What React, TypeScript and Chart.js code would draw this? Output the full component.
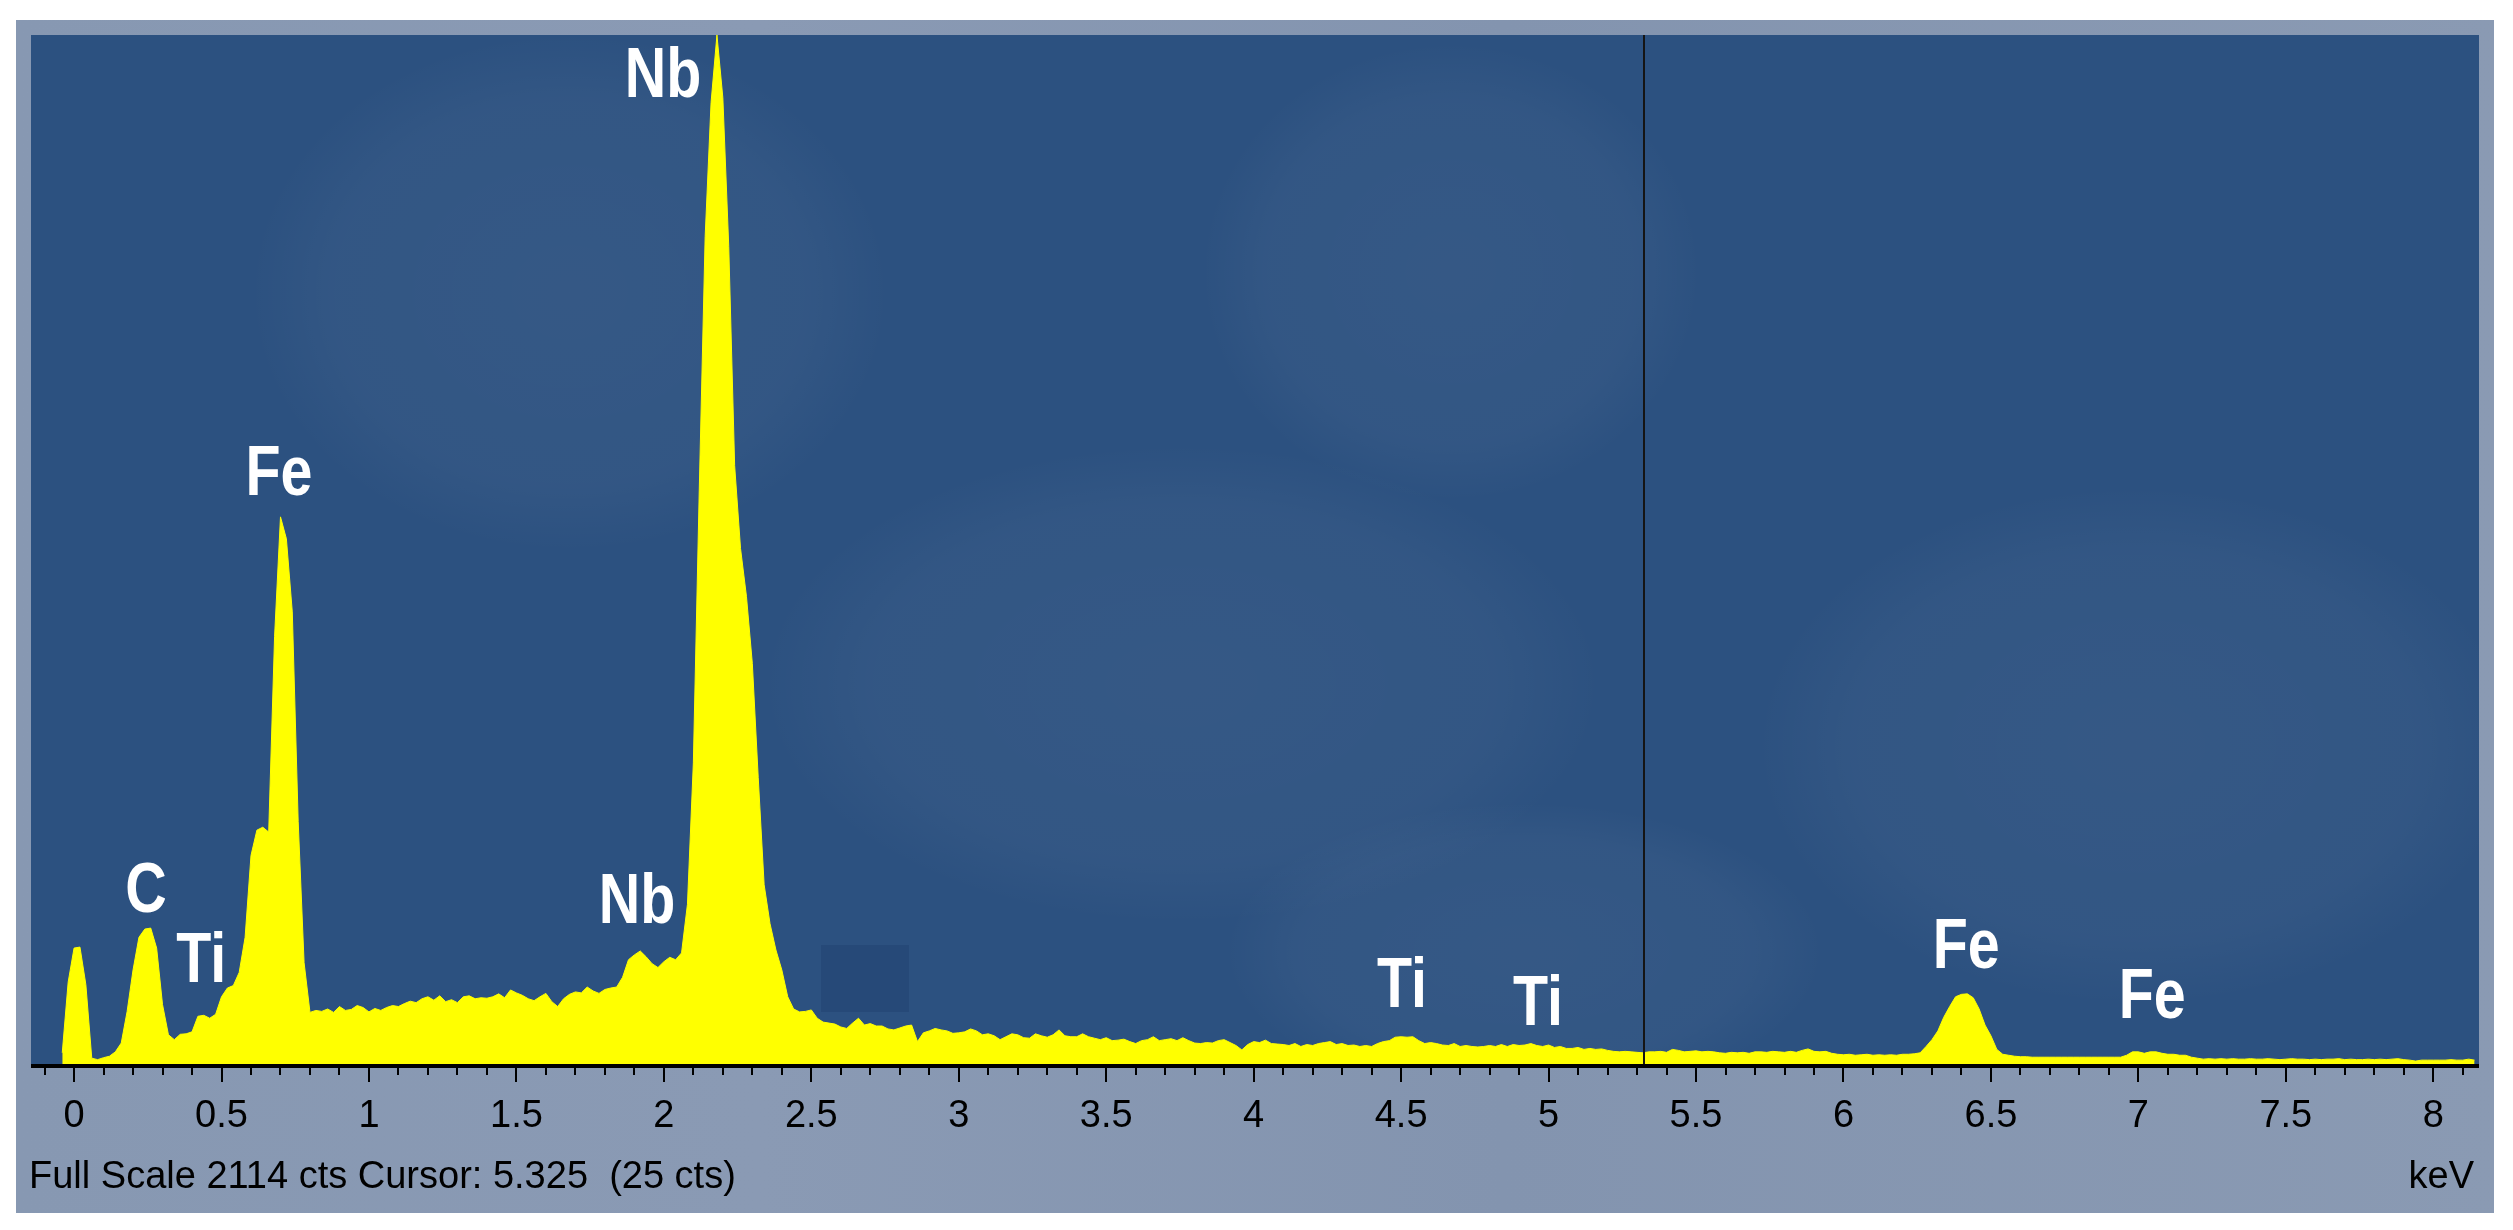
import React, { useEffect, useRef } from "react";
import { Chart, registerables } from "chart.js";

Chart.register(...registerables);

// ---- spectrum data (channel width 0.02 keV, first channel at -0.04 keV) ----
const ENERGY_START = -0.04;
const ENERGY_STEP = 0.02;

const counts: number[] = [
  // -0.04
  25, 170,
  // 0.00
  240, 242, 165, 14, 11, 15, 18, 27, 45, 110,
  // 0.20
  195, 262, 279, 281, 240, 124, 62, 52, 63, 64,
  // 0.40
  68, 100, 102, 96, 104, 140, 158, 163, 190, 262,
  // 0.60
  430, 482, 488, 478, 880, 1125, 1080, 930, 500, 210,
  // 0.80
  108, 112, 110, 115, 108, 120, 112, 114, 122, 118,
  // 1.00
  109, 116, 112, 118, 122, 120, 126, 131, 128, 136,
  // 1.20
  140, 133, 142, 130, 134, 128, 140, 142, 136, 138,
  // 1.40
  137, 140, 146, 138, 154, 148, 143, 136, 132, 140,
  // 1.60
  147, 130, 120, 136, 145, 150, 148, 160, 152, 147,
  // 1.80
  155, 158, 160, 180, 216, 226, 234, 222, 208, 200,
  // 2.00
  212, 221, 216, 230, 330, 620, 1180, 1700, 1975, 2114,
  // 2.20
  1985, 1680, 1230, 1060, 962, 824, 590, 370, 290, 236,
  // 2.40
  195, 140, 115, 109, 110, 113, 96, 88, 86, 84,
  // 2.60
  78, 75, 86, 96, 82, 85, 80, 80, 74, 72,
  // 2.80
  76, 80, 82, 48, 66, 70, 75, 72, 70, 65,
  // 3.00
  66, 68, 74, 70, 62, 64, 60, 52, 58, 64,
  // 3.20
  62, 56, 55, 64, 60, 57, 62, 72, 60, 58,
  // 3.40
  58, 64, 58, 55, 52, 56, 50, 51, 53, 48,
  // 3.60
  44, 50, 52, 58, 50, 52, 54, 50, 56, 50,
  // 3.80
  45, 44, 46, 45, 50, 52, 46, 40, 31, 42,
  // 4.00
  48, 46, 51, 44, 43, 42, 40, 44, 38, 42,
  // 4.20
  40, 44, 46, 48, 42, 44, 40, 41, 38, 40,
  // 4.40
  38, 44, 48, 50, 57, 58, 57, 58, 50, 44,
  // 4.60
  46, 44, 41, 40, 44, 38, 40, 38, 37, 38,
  // 4.80
  40, 38, 42, 38, 42, 40, 41, 44, 40, 38,
  // 5.00
  41, 36, 38, 34, 34, 36, 32, 34, 32, 33,
  // 5.20
  30, 28, 27, 28, 27, 26, 25, 27, 27, 28,
  // 5.40
  26, 32, 30, 27, 28, 29, 27, 28, 27, 25,
  // 5.60
  24, 26, 25, 26, 24, 27, 27, 26, 28, 27,
  // 5.80
  26, 28, 26, 30, 33, 28, 27, 28, 24, 22,
  // 6.00
  21, 22, 20, 21, 22, 20, 21, 20, 21, 20,
  // 6.20
  22, 22, 23, 25, 38, 52, 70, 98, 120, 140,
  // 6.40
  145, 146, 138, 115, 82, 60, 32, 22, 20, 18,
  // 6.60
  17, 17, 16, 16, 16, 16, 16, 16, 16, 16,
  // 6.80
  16, 16, 16, 16, 16, 16, 16, 16, 20, 27,
  // 7.00
  27, 24, 27, 27, 24, 22, 22, 20, 20, 16,
  // 7.20
  14, 12, 13, 12, 13, 12, 13, 12, 12, 13,
  // 7.40
  12, 12, 13, 12, 11, 12, 13, 12, 12, 11,
  // 7.60
  12, 11, 12, 12, 13, 11, 12, 11, 11, 12,
  // 7.80
  11, 12, 11, 12, 13, 11, 10, 8, 10, 10,
  // 8.00
  10, 10, 10, 11, 10, 10, 12, 10,
];

// ---- axis ----
const X_MIN = -0.146;
const X_MAX = 8.155;
const MINOR_STEP = 0.1;
const MAJOR_STEP = 0.5;
const FULL_SCALE = 2114;

// ---- cursor ----
const CURSOR_KEV = 5.325;
const CURSOR_CTS = 25;

// ---- peak labels ----
const peakLabels = ["Nb", "Fe", "C", "Ti", "Nb", "Ti", "Ti", "Fe", "Fe"];
const peakLabelEnergies = [1.997, 0.695, 0.244, 0.431, 1.909, 4.503, 4.964, 6.416, 7.047];
const peakLabelCounts = [1986, 1170, 314, 170, 291, 119, 82, 199, 96];

const footerText = `Full Scale ${FULL_SCALE} cts Cursor: ${CURSOR_KEV.toFixed(3)}  (${CURSOR_CTS} cts)`;
const unitText = "keV";

const W = 2513;
const H = 1230;
const TEXT_FONT = '"Liberation Sans", Arial, sans-serif';

const spectrumPlugin = {
  id: "edsDecor",
  beforeDraw(chart: any) {
    const { ctx, chartArea: a } = chart;
    ctx.save();
    ctx.fillStyle = "#ffffff";
    ctx.fillRect(0, 0, W, H);
    // outer frame
    const fx = a.left - 15;
    const fy = a.top - 15;
    const fw = a.right + 15 - fx;
    const fh = a.bottom + 148 - fy;
    const fg = ctx.createLinearGradient(fx, 0, fx + fw, 0);
    fg.addColorStop(0, "#8798b2");
    fg.addColorStop(0.3, "#8a9ab4");
    fg.addColorStop(0.6, "#8394af");
    fg.addColorStop(1, "#8a9ab3");
    ctx.fillStyle = fg;
    ctx.fillRect(fx, fy, fw, fh);
    // plot background
    ctx.fillStyle = "#2c5180";
    ctx.fillRect(a.left, a.top, a.right - a.left, a.bottom - a.top);
    ctx.beginPath();
    ctx.rect(a.left, a.top, a.right - a.left, a.bottom - a.top);
    ctx.clip();
    // faint backdrop grains
    const blobs = [
      [0.58, 0.23, 250, 230],
      [0.47, 0.63, 420, 240],
      [0.86, 0.69, 380, 260],
      [0.61, 0.89, 300, 150],
      [0.22, 0.25, 320, 260],
    ];
    for (const [bx, by, rx, ry] of blobs) {
      const cx = a.left + bx * (a.right - a.left);
      const cy = a.top + by * (a.bottom - a.top);
      ctx.save();
      ctx.translate(cx, cy);
      ctx.scale(1, ry / rx);
      const g = ctx.createRadialGradient(0, 0, 0, 0, 0, rx);
      g.addColorStop(0, "rgba(255,255,255,0.045)");
      g.addColorStop(0.75, "rgba(255,255,255,0.03)");
      g.addColorStop(1, "rgba(255,255,255,0)");
      ctx.fillStyle = g;
      ctx.beginPath();
      ctx.arc(0, 0, rx, 0, Math.PI * 2);
      ctx.fill();
      ctx.restore();
    }
    // small darker patch of the backdrop
    ctx.fillStyle = "rgba(25,55,100,0.28)";
    ctx.fillRect(a.left + 790, a.bottom - 120, 88, 67);
    ctx.restore();
  },
  afterDatasetsDraw(chart: any) {
    const { ctx, chartArea: a, scales } = chart;
    const xs = scales.x;
    const ys = scales.y;
    ctx.save();
    // cursor line
    const cx = Math.round(xs.getPixelForValue(CURSOR_KEV));
    ctx.fillStyle = "#151515";
    ctx.fillRect(cx - 1, a.top, 2, a.bottom - a.top);
    // axis line
    ctx.fillStyle = "#000000";
    ctx.fillRect(a.left, a.bottom - 1, a.right - a.left, 4);
    // tick marks
    for (const t of xs.ticks) {
      const v = t.value;
      const px = Math.round(xs.getPixelForValue(v));
      const major = Math.abs(v / MAJOR_STEP - Math.round(v / MAJOR_STEP)) < 1e-6;
      ctx.fillRect(px - 1, a.bottom, 2, major ? 17 : 10);
    }
    // peak labels
    ctx.fillStyle = "#ffffff";
    ctx.font = `bold 70px ${TEXT_FONT}`;
    ctx.textAlign = "center";
    ctx.textBaseline = "alphabetic";
    peakLabels.forEach((txt, i) => {
      const px = xs.getPixelForValue(peakLabelEnergies[i]);
      const py = ys.getPixelForValue(peakLabelCounts[i]);
      ctx.save();
      ctx.translate(px, py);
      ctx.scale(0.82, 1);
      ctx.fillText(txt, 0, 0);
      ctx.restore();
    });
    // footer texts
    ctx.fillStyle = "#000000";
    ctx.font = `38px ${TEXT_FONT}`;
    ctx.textAlign = "left";
    ctx.fillText(footerText, a.left - 2, a.bottom + 123);
    ctx.textAlign = "right";
    ctx.fillText(unitText, a.right - 5, a.bottom + 123);
    ctx.restore();
  },
};

export default function App() {
  const ref = useRef<HTMLCanvasElement | null>(null);
  useEffect(() => {
    if (!ref.current) return;
    const points = counts.map((c, i) => ({
      x: Math.round((ENERGY_START + i * ENERGY_STEP) * 1000) / 1000,
      y: c,
    }));
    const chart = new Chart(ref.current, {
      type: "line",
      data: {
        datasets: [
          {
            data: points,
            borderColor: "#ffff00",
            backgroundColor: "#ffff00",
            borderWidth: 1,
            pointRadius: 0,
            fill: "origin",
            tension: 0,
          },
        ],
      },
      options: {
        responsive: false,
        devicePixelRatio: 1,
        animation: false,
        events: [],
        layout: { padding: { left: 31, top: 35, right: 34, bottom: 0 } },
        plugins: { legend: { display: false }, tooltip: { enabled: false } },
        scales: {
          x: {
            type: "linear",
            min: X_MIN,
            max: X_MAX,
            afterFit: (s: any) => {
              s.height = 165;
            },
            border: { display: false },
            grid: {
              display: true,
              drawOnChartArea: false,
              drawTicks: true,
              tickLength: 17,
              tickColor: "rgba(0,0,0,0)",
            },
            ticks: {
              stepSize: MINOR_STEP,
              includeBounds: false,
              autoSkip: false,
              maxRotation: 0,
              padding: 12,
              color: "#000000",
              font: { family: TEXT_FONT, size: 38 },
              callback: (v: any) => {
                const n = Number(v);
                const k = n / MAJOR_STEP;
                if (Math.abs(k - Math.round(k)) > 1e-6) return "";
                return String(Math.round(k) * MAJOR_STEP);
              },
            },
          },
          y: {
            type: "linear",
            min: 0,
            max: FULL_SCALE,
            display: false,
          },
        },
      },
      plugins: [spectrumPlugin],
    });
    return () => chart.destroy();
  }, []);
  return (
    <div style={{ position: "absolute", left: 0, top: 0, width: W, height: H, background: "#fff" }}>
      <canvas ref={ref} width={W} height={H} style={{ display: "block", width: W, height: H }} />
    </div>
  );
}
